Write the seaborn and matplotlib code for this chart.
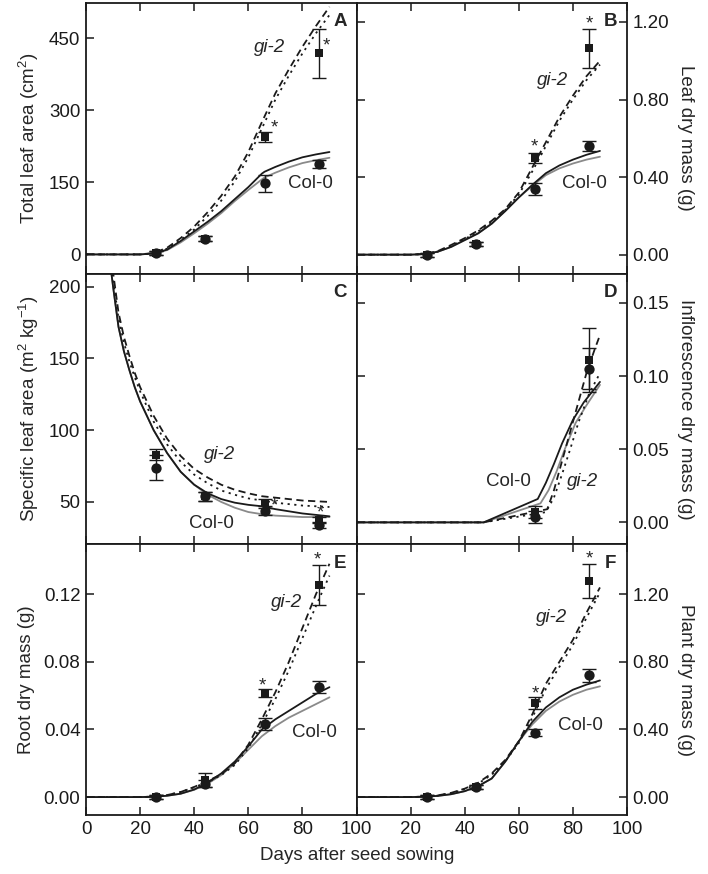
import numpy as np
import pandas as pd
import seaborn as sns
import matplotlib.pyplot as plt

sns.set_theme(style='ticks')
plt.rcParams['font.family'] = ['Liberation Sans', 'DejaVu Sans']
plt.rcParams['mathtext.fontset'] = 'custom'
plt.rcParams['mathtext.rm'] = 'Liberation Sans'
FS = 13.5

# observation days
obs_days = [26, 44, 66, 86]

# ---- panel A: total leaf area
a_days = [0, 20, 25, 30, 35, 40, 45, 50, 55, 60, 65, 66, 70, 75, 80, 85, 90]
a_col_black = [0, 0, 2, 10, 28, 48, 68, 90, 115, 140, 168, 172, 182, 193, 202, 208, 213]
a_col_gray = [0, 0, 2, 9, 25, 44, 64, 86, 111, 134, 156, 160, 170, 181, 190, 196, 201]
a_gi_dash = [0, 0, 3, 14, 34, 58, 88, 122, 162, 213, 275, 287, 335, 385, 432, 475, 515]
a_gi_dot = [0, 0, 2, 12, 30, 52, 80, 112, 152, 202, 262, 274, 322, 372, 418, 460, 498]
a_col = [3, 33, 148, 188]
a_col_err = [5, 6, 18, 8]
a_gi = [3, 33, 244, 418]
a_gi_err = [4, 5, 11, 51]

# ---- panel B: leaf dry mass
b_days = [0, 20, 25, 30, 35, 40, 45, 50, 55, 60, 65, 70, 75, 80, 85, 90]
b_col_black = [0, 0, 0.003, 0.015, 0.04, 0.075, 0.11, 0.16, 0.225, 0.295, 0.36, 0.42, 0.46, 0.49, 0.515, 0.535]
b_col_gray = [0, 0, 0.003, 0.015, 0.04, 0.075, 0.11, 0.16, 0.225, 0.295, 0.355, 0.41, 0.445, 0.47, 0.49, 0.505]
b_gi_dash = [0, 0, 0.003, 0.018, 0.05, 0.085, 0.125, 0.175, 0.235, 0.32, 0.45, 0.58, 0.71, 0.82, 0.92, 1.0]
b_gi_dot = [0, 0, 0.003, 0.016, 0.046, 0.08, 0.12, 0.17, 0.23, 0.31, 0.43, 0.56, 0.69, 0.80, 0.90, 0.98]
b_col = [0.0, 0.057, 0.34, 0.56]
b_col_err = [0.01, 0.01, 0.03, 0.025]
b_gi = [0.0, 0.057, 0.50, 1.065]
b_gi_err = [0.01, 0.01, 0.025, 0.1]

# ---- panel C: specific leaf area
c_days = [9, 10, 12, 14, 16, 18, 20, 25, 30, 35, 40, 45, 50, 55, 60, 65, 70, 75, 80, 85, 90]
c_col_gray = [215, 200, 172, 155, 142, 130, 120, 100, 84, 71, 62, 55, 50, 46, 43, 41.5, 40.5, 40, 39.5, 39.5, 39.5]
c_col_black = [215, 200, 172, 155, 142, 130, 120, 100, 84, 71, 62, 56, 52, 49.5, 48, 47, 45, 43.5, 42, 41, 40]
c_gi_dash = [220, 210, 182, 165, 152, 140, 130, 110, 94, 82, 73, 67, 62, 58.5, 56, 54, 53, 52, 51, 50.5, 50]
c_gi_dot = [218, 205, 178, 161, 148, 137, 127, 106, 90, 78, 69, 63, 58, 55, 52.5, 51, 49.5, 48.5, 47.5, 47, 46.5]
c_col = [74, 54, 44, 34]
c_col_err = [9, 3, 3, 2]
c_gi = [83, 54, 49, 37.5]
c_gi_err = [4, 3, 3, 2]

# ---- panel D: inflorescence dry mass
d_days_col_black = [0, 47, 67, 70, 73, 76, 80, 84, 90]
d_col_black = [0, 0, 0.016, 0.027, 0.040, 0.054, 0.070, 0.082, 0.096]
d_days_col_gray = [0, 47, 68, 71, 74, 77, 81, 85, 90]
d_col_gray = [0, 0, 0.013, 0.022, 0.035, 0.050, 0.068, 0.080, 0.094]
d_days_gi_dash = [0, 47, 70.5, 73, 76, 79, 82, 85, 88, 90]
d_gi_dash = [0, 0, 0.009, 0.022, 0.042, 0.062, 0.082, 0.102, 0.118, 0.128]
d_days_gi_dot = [0, 47, 70, 73, 76, 79, 82, 86, 90]
d_gi_dot = [0, 0, 0.007, 0.017, 0.033, 0.050, 0.068, 0.088, 0.102]
d_obs_days = [66, 86]
d_col = [0.0035, 0.105]
d_col_err = [0.004, 0.014]
d_gi = [0.007, 0.111]
d_gi_err = [0.004, 0.022]

# ---- panel E: root dry mass
e_days = b_days
e_col_black = [0, 0, 0.0002, 0.0008, 0.002, 0.0045, 0.0085, 0.014, 0.021, 0.030, 0.040, 0.046, 0.051, 0.056, 0.061, 0.065]
e_col_gray = [0, 0, 0.0002, 0.0008, 0.002, 0.0043, 0.008, 0.013, 0.020, 0.028, 0.036, 0.042, 0.047, 0.051, 0.055, 0.059]
e_gi_dash = [0, 0, 0.0003, 0.0012, 0.003, 0.006, 0.0095, 0.0135, 0.020, 0.031, 0.046, 0.062, 0.080, 0.100, 0.120, 0.138]
e_gi_dot = [0, 0, 0.0003, 0.0012, 0.003, 0.0058, 0.009, 0.013, 0.019, 0.029, 0.043, 0.058, 0.075, 0.094, 0.113, 0.131]
e_col = [0.0, 0.008, 0.0431, 0.065]
e_col_err = [0.001, 0.002, 0.0035, 0.0036]
e_gi = [0.0, 0.010, 0.0614, 0.1253]
e_gi_err = [0.001, 0.004, 0.0024, 0.0118]

# ---- panel F: plant dry mass
f_days = b_days
f_col_black = [0, 0, 0.002, 0.007, 0.017, 0.035, 0.065, 0.11, 0.21, 0.33, 0.445, 0.53, 0.59, 0.635, 0.665, 0.69]
f_col_gray = [0, 0, 0.002, 0.007, 0.017, 0.035, 0.065, 0.11, 0.21, 0.33, 0.43, 0.51, 0.565, 0.605, 0.635, 0.655]
f_gi_dash = [0, 0, 0.003, 0.01, 0.025, 0.05, 0.085, 0.14, 0.22, 0.33, 0.49, 0.67, 0.80, 0.93, 1.09, 1.24]
f_gi_dot = [0, 0, 0.003, 0.009, 0.023, 0.047, 0.08, 0.133, 0.212, 0.32, 0.47, 0.64, 0.77, 0.90, 1.06, 1.21]
f_col = [0.0, 0.06, 0.38, 0.72]
f_col_err = [0.01, 0.01, 0.02, 0.04]
f_gi = [0.0, 0.06, 0.555, 1.276]
f_gi_err = [0.01, 0.01, 0.035, 0.1]

GRAY = '#8a8a8a'
DASH = (0, (4, 2.5))
DOT = (0, (1.2, 2.5))


def draw_lines(ax, series):
    for x, y, color, ls in series:
        sns.lineplot(x=x, y=y, ax=ax, color=color, linestyle=ls, lw=1.3,
                     sort=False, estimator=None)


def draw_obs(ax, days, col, col_err, gi, gi_err):
    ax.errorbar(days, gi, yerr=gi_err, fmt='none', ecolor='k', elinewidth=1,
                capsize=5, capthick=1, zorder=4)
    ax.errorbar(days, col, yerr=col_err, fmt='none', ecolor='k', elinewidth=1,
                capsize=5, capthick=1, zorder=4)
    sns.scatterplot(x=days, y=gi, ax=ax, marker='s', s=40, color='k',
                    edgecolor='k', linewidth=0, zorder=5)
    sns.scatterplot(x=days, y=col, ax=ax, marker='o', s=55, color='k',
                    edgecolor='k', linewidth=0, zorder=5)


fig, axes = plt.subplots(3, 2, figsize=(7.08, 8.74), dpi=100)
fig.subplots_adjust(left=0.1215, right=0.8856, bottom=0.0675, top=0.9966,
                    wspace=0, hspace=0)
axA, axB = axes[0]
axC, axD = axes[1]
axE, axF = axes[2]

draw_lines(axA, [(a_days, a_col_gray, GRAY, '-'), (a_days, a_col_black, 'k', '-'),
                 (a_days, a_gi_dash, 'k', DASH), (a_days, a_gi_dot, 'k', DOT)])
draw_obs(axA, obs_days, a_col, a_col_err, a_gi, a_gi_err)
draw_lines(axB, [(b_days, b_col_gray, GRAY, '-'), (b_days, b_col_black, 'k', '-'),
                 (b_days, b_gi_dash, 'k', DASH), (b_days, b_gi_dot, 'k', DOT)])
draw_obs(axB, obs_days, b_col, b_col_err, b_gi, b_gi_err)
draw_lines(axC, [(c_days, c_col_gray, GRAY, '-'), (c_days, c_col_black, 'k', '-'),
                 (c_days, c_gi_dash, 'k', DASH), (c_days, c_gi_dot, 'k', DOT)])
draw_obs(axC, obs_days, c_col, c_col_err, c_gi, c_gi_err)
draw_lines(axD, [(d_days_col_gray, d_col_gray, GRAY, '-'),
                 (d_days_col_black, d_col_black, 'k', '-'),
                 (d_days_gi_dash, d_gi_dash, 'k', DASH),
                 (d_days_gi_dot, d_gi_dot, 'k', DOT)])
draw_obs(axD, d_obs_days, d_col, d_col_err, d_gi, d_gi_err)
draw_lines(axE, [(e_days, e_col_gray, GRAY, '-'), (e_days, e_col_black, 'k', '-'),
                 (e_days, e_gi_dash, 'k', DASH), (e_days, e_gi_dot, 'k', DOT)])
draw_obs(axE, obs_days, e_col, e_col_err, e_gi, e_gi_err)
draw_lines(axF, [(f_days, f_col_gray, GRAY, '-'), (f_days, f_col_black, 'k', '-'),
                 (f_days, f_gi_dash, 'k', DASH), (f_days, f_gi_dot, 'k', DOT)])
draw_obs(axF, obs_days, f_col, f_col_err, f_gi, f_gi_err)

# axis limits / ticks
limits = {
    axA: ((-40, 523), [0, 150, 300, 450], '{:.0f}'),
    axB: ((-0.098, 1.298), [0.0, 0.4, 0.8, 1.2], '{:.2f}'),
    axC: ((20.5, 209), [50, 100, 150, 200], '{:.0f}'),
    axD: ((-0.015, 0.17), [0.0, 0.05, 0.10, 0.15], '{:.2f}'),
    axE: ((-0.0106, 0.1495), [0.0, 0.04, 0.08, 0.12], '{:.2f}'),
    axF: ((-0.106, 1.495), [0.0, 0.4, 0.8, 1.2], '{:.2f}'),
}
for ax, (ylim, yt, fmt) in limits.items():
    ax.set_xlim(0, 100)
    ax.set_ylim(*ylim)
    ax.set_yticks(yt)
    ax.set_yticklabels([fmt.format(v) for v in yt])
    ax.set_xticks([0, 20, 40, 60, 80, 100])
    ax.set_xlabel('')
    ax.set_ylabel('')
    for sp in ax.spines.values():
        sp.set_visible(True)
        sp.set_linewidth(1.3)
        sp.set_color('k')
    ax.tick_params(direction='in', length=6, width=1.1, labelsize=FS,
                   colors='k', top=True, bottom=True, pad=4)

for ax in (axA, axC, axE):
    ax.tick_params(axis='y', left=True, right=False, labelleft=True, labelright=False)
for ax in (axB, axD, axF):
    ax.tick_params(axis='y', left=True, right=True, labelleft=False, labelright=True)
    ax.yaxis.set_label_position('right')
for ax in (axA, axB, axC, axD):
    ax.tick_params(axis='x', labelbottom=False)
axF.set_xticklabels(['', '20', '40', '60', '80', '100'])

axA.set_ylabel('Total leaf area (cm$^2$)', fontsize=FS, labelpad=6)
axC.set_ylabel('Specific leaf area (m$^2$ kg$^{-1}$)', fontsize=FS, labelpad=6)
axE.set_ylabel('Root dry mass (g)', fontsize=FS, labelpad=6)
axB.set_ylabel('Leaf dry mass (g)', fontsize=FS, rotation=270, labelpad=18)
axD.set_ylabel('Inflorescence dry mass (g)', fontsize=FS, rotation=270, labelpad=18)
axF.set_ylabel('Plant dry mass (g)', fontsize=FS, rotation=270, labelpad=18)
fig.text(0.5045, 0.012, 'Days after seed sowing', ha='center', va='bottom', fontsize=FS)

# panel letters
for ax, letter in zip([axA, axB, axC, axD, axE, axF], 'ABCDEF'):
    ax.text(0.94, 0.93, letter, transform=ax.transAxes, ha='center', va='center',
            fontsize=FS, fontweight='bold')

# genotype labels
labels = [
    (axA, 68, 431, 'gi-2', True), (axA, 83, 148, 'Col-0', False),
    (axB, 72.6, 0.90, 'gi-2', True), (axB, 84.4, 0.367, 'Col-0', False),
    (axC, 49.4, 83, 'gi-2', True), (axC, 46.5, 35, 'Col-0', False),
    (axD, 56, 0.028, 'Col-0', False), (axD, 83.7, 0.028, 'gi-2', True),
    (axE, 74, 0.115, 'gi-2', True), (axE, 84.5, 0.038, 'Col-0', False),
    (axF, 72.2, 1.06, 'gi-2', True), (axF, 82.6, 0.425, 'Col-0', False),
]
for ax, x, y, s, ital in labels:
    ax.text(x, y, s, ha='center', va='center', fontsize=FS,
            fontstyle='italic' if ital else 'normal')

# significance asterisks
stars = [
    (axA, 69.7, 262), (axA, 89, 434),
    (axB, 65.6, 0.555), (axB, 86, 1.19),
    (axC, 69.7, 47.5), (axC, 86.8, 42.5),
    (axE, 65.3, 0.066), (axE, 85.6, 0.140),
    (axF, 66, 0.61), (axF, 86, 1.41),
]
for ax, x, y in stars:
    ax.text(x, y, '*', ha='center', va='center', fontsize=FS)

plt.savefig('out.png', dpi=100)
